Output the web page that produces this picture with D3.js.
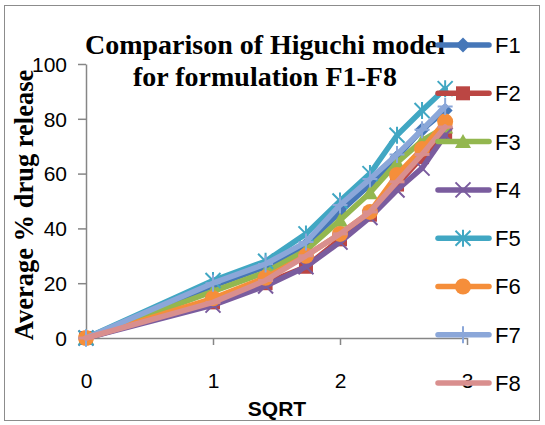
<!DOCTYPE html>
<html><head><meta charset="utf-8">
<script src="https://cdn.jsdelivr.net/npm/d3@7"></script>
<style>html,body{margin:0;padding:0;background:#fff;}</style>
</head><body>
<svg id="c" width="545" height="425"></svg>
<script>
const sqrtTime = [0, 1, 1.414, 1.732, 2, 2.236, 2.449, 2.646, 2.828];
const F1 = [0, 19, 26, 34, 46, 56, 66, 76, 83];
const F2 = [0, 13, 20, 26, 36, 45, 56, 66, 75];
const F3 = [0, 17, 24, 32, 43, 53, 64, 72, 77];
const F4 = [0, 12, 19, 26, 35, 44, 54, 62, 74];
const F5 = [0, 21, 28, 38, 50, 60, 74, 83, 91];
const F6 = [0, 14.5, 22, 30, 38, 46, 59.5, 69, 79];
const F7 = [0, 20, 27, 35, 48.5, 58, 67, 76, 84.5];
const F8 = [0, 13, 21, 30, 38, 46, 57, 67, 77];
const seriesNames = ["F1","F2","F3","F4","F5","F6","F7","F8"];
const xTicks = [0, 1, 2, 3];
const yTicks = [0, 20, 40, 60, 80, 100];
const titleLines = ["Comparison of Higuchi model", "for formulation F1-F8"];

const seriesValues = [F1,F2,F3,F4,F5,F6,F7,F8];
const colors = ["#4677B8","#BB4643","#93B74F","#7A5C9E","#41A7C3","#F58E3A","#8BA7D9","#D98F8E"];
const markers = ["diamond","square","triangle","x","star","circle","plus","dash"];

const svg = d3.select("#c");
svg.append("rect").attr("x",4.5).attr("y",5.5).attr("width",535).attr("height",415)
  .attr("fill","#fff").attr("stroke","#8c8c8c").attr("stroke-width",1);

const x = d3.scaleLinear().domain([0,3]).range([86,467]);
const y = d3.scaleLinear().domain([0,100]).range([338,64]);

const tickFont = "'Liberation Sans Narrow','Liberation Sans',Arial,sans-serif";
const axisColor = "#868686";

const gx = svg.append("g").attr("transform","translate(0,338)")
  .call(d3.axisBottom(x).tickValues(xTicks).tickFormat(d3.format("d")).tickSize(7).tickSizeOuter(0).tickPadding(28));
const gy = svg.append("g").attr("transform","translate(86,0)")
  .call(d3.axisLeft(y).tickValues(yTicks).tickFormat(d3.format("d")).tickSize(8).tickSizeOuter(0).tickPadding(11));
[gx,gy].forEach(g=>{
  g.select(".domain").attr("stroke",axisColor).attr("stroke-width",1.5);
  g.selectAll(".tick line").attr("stroke",axisColor).attr("stroke-width",1.5);
  g.selectAll(".tick text").attr("fill","#000").style("font-family",tickFont).style("font-size","21px");
});
gy.selectAll(".tick text").attr("dy","0.35em");

function drawMarker(g, type, cx, cy, color){
  const s = 7.5;
  if(type==="diamond"){
    g.append("path").attr("d",`M${cx},${cy-s} L${cx+s},${cy} L${cx},${cy+s} L${cx-s},${cy} Z`).attr("fill",color);
  } else if(type==="square"){
    g.append("rect").attr("x",cx-7).attr("y",cy-7).attr("width",14).attr("height",14).attr("fill",color);
  } else if(type==="triangle"){
    g.append("path").attr("d",`M${cx},${cy-7.5} L${cx+8},${cy+6.5} L${cx-8},${cy+6.5} Z`).attr("fill",color);
  } else if(type==="x"){
    g.append("path").attr("d",`M${cx-s},${cy-s} L${cx+s},${cy+s} M${cx-s},${cy+s} L${cx+s},${cy-s}`).attr("stroke",color).attr("stroke-width",2);
  } else if(type==="star"){
    g.append("path").attr("d",`M${cx-s},${cy-s} L${cx+s},${cy+s} M${cx-s},${cy+s} L${cx+s},${cy-s} M${cx},${cy-s-1} L${cx},${cy+s+1}`).attr("stroke",color).attr("stroke-width",2);
  } else if(type==="circle"){
    g.append("circle").attr("cx",cx).attr("cy",cy).attr("r",8).attr("fill",color);
  } else if(type==="plus"){
    g.append("path").attr("d",`M${cx},${cy-s-1} L${cx},${cy+s+1} M${cx-s},${cy} L${cx+s},${cy}`).attr("stroke",color).attr("stroke-width",2);
  } else if(type==="dash"){
    g.append("path").attr("d",`M${cx-s},${cy} L${cx+s},${cy}`).attr("stroke",color).attr("stroke-width",3);
  }
}

const line = d3.line().x((d,i)=>x(sqrtTime[i])).y(d=>y(d));
const plot = svg.append("g");
seriesValues.forEach((vals,si)=>{
  const g = plot.append("g");
  g.append("path").datum(vals).attr("d",line).attr("fill","none")
    .attr("stroke",colors[si]).attr("stroke-width",5.5).attr("stroke-linejoin","round").attr("stroke-linecap","round");
  vals.forEach((v,i)=>drawMarker(g, markers[si], x(sqrtTime[i]), y(v), colors[si]));
});

// Title
const title = svg.append("text").attr("text-anchor","middle")
  .style("font-family","'Liberation Serif','Times New Roman',serif").style("font-weight","bold").style("font-size","28px");
titleLines.forEach((t,i)=>title.append("tspan").attr("x",265).attr("y",54+i*32).text(t));

// Axis titles
svg.append("text").attr("transform","translate(33,205) rotate(-90)").attr("text-anchor","middle")
  .style("font-family","'Liberation Serif','Times New Roman',serif").style("font-weight","bold").style("font-size","26.5px")
  .text("Average % drug release");
svg.append("text").attr("x",277).attr("y",416).attr("text-anchor","middle")
  .style("font-family","'Liberation Sans',Arial,sans-serif").style("font-weight","bold").style("font-size","21px")
  .text("SQRT");

// Legend
const leg = svg.append("g");
seriesNames.forEach((n,i)=>{
  const ly = 45 + i*48.3;
  const g = leg.append("g");
  g.append("line").attr("x1",438).attr("x2",489).attr("y1",ly).attr("y2",ly)
    .attr("stroke",colors[i]).attr("stroke-width",5.5).attr("stroke-linecap","round");
  drawMarker(g, markers[i], 463, ly, colors[i]);
  g.append("text").attr("x",495).attr("y",ly).attr("dy","0.36em")
    .style("font-family",tickFont).style("font-size","22px").text(n);
});
</script>
</body></html>
